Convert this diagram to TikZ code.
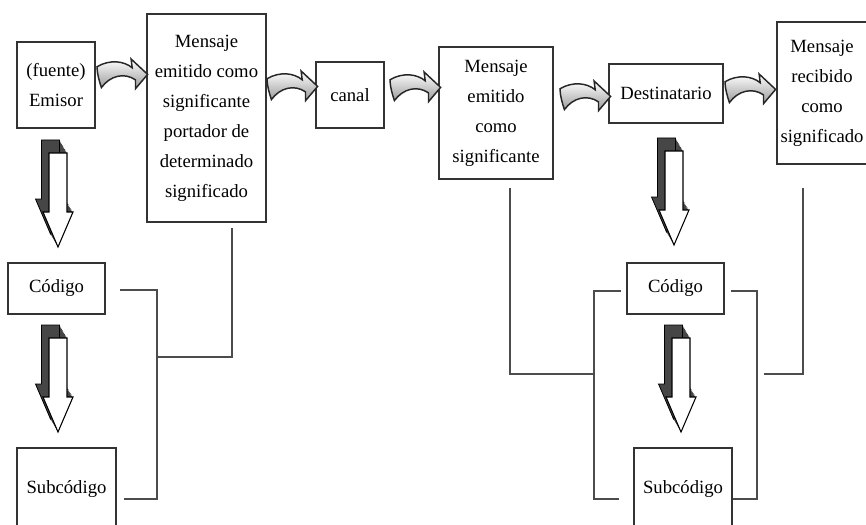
\documentclass[tikz,border=0pt]{standalone}
\usepackage{fontspec}
\setmainfont{Liberation Serif}
\usepackage{tikz}

\tikzset{
  box/.style={draw=black!80, line width=1pt, inner sep=0pt, align=center,
    font=\fontsize{14}{22.5}\selectfont},
  link/.style={draw=black!70, line width=0.9pt},
}
% outline of the bent arrow between the boxes
\newcommand{\bentpath}{(0,7) .. controls (12,0) and (25,2) .. (32,8) -- (31,0) -- (46,14) -- (35,27) -- (35,19) .. controls (25,12) and (12,15) .. (4,26) .. controls (2,20) and (0,13) .. (0,7) -- cycle}
% outline of the block arrow going down
\newcommand{\blockpath}{(0,0) -- (18,0) -- (18,59) -- (24,59) -- (9,94) -- (-6,59) -- (0,59) -- cycle}
\newcommand{\bentarrow}[2]{%
  \draw [shift={(#1,#2)}, scale=1.1, line width=1.1pt, draw=black!85, top color=white, bottom color=gray!80] \bentpath;}
\newcommand{\downblock}[2]{%
  \foreach \k in {1,...,10}{\fill [gray!55!black, shift={(#1-0.75*\k,#2-1.3*\k)}] \blockpath;}
  \draw [shift={(#1-7.5,#2-13)}, line width=0.6pt] \blockpath;
  \draw [shift={(#1,#2)}, fill=white, line width=0.8pt] \blockpath;}

\begin{document}
\begin{tikzpicture}[x=0.75pt,y=0.75pt,yscale=-1,xscale=1]
\useasboundingbox (0,0) rectangle (866,524);
\clip (0,0) rectangle (866,524);

% Boxes, top row
\node [box, minimum width=58.5pt, minimum height=64.5pt] (emisor) at (56,85) {(fuente)\\Emisor};
\node [box, minimum width=89.25pt, minimum height=156pt] (mensaje1) at (206.5,118) {Mensaje\\emitido como\\significante\\portador de\\determinado\\significado};
\node [box, minimum width=51pt, minimum height=49.5pt] (canal) at (350,95) {canal};
\node [box, minimum width=85.5pt, minimum height=99pt] (mensaje2) at (496,113) {Mensaje\\emitido\\como\\significante};
\node [box, minimum width=85.5pt, minimum height=44.25pt] (destino) at (666,93.5) {Destinatario};
\node [box, minimum width=67.5pt, minimum height=106.5pt] (mensaje3) at (822,93) {Mensaje\\recibido\\como\\significado};

% Boxes, codes
\node [box, minimum width=72.75pt, minimum height=38.25pt] (codigoA) at (56.5,288.5) {Código};
\node [box, minimum width=74.25pt, minimum height=61.5pt] (subcodA) at (66.5,489) {Subcódigo};
\node [box, minimum width=72.75pt, minimum height=38.25pt] (codigoB) at (675.5,288.5) {Código};
\node [box, minimum width=73.5pt, minimum height=61.5pt] (subcodB) at (683,489) {Subcódigo};

% Bent arrows
\bentarrow{97}{59}
\bentarrow{267}{71}
\bentarrow{390}{72}
\bentarrow{560}{81}
\bentarrow{725}{74}

% Block arrows
\downblock{49}{153}
\downblock{49}{338}
\downblock{665}{151}
\downblock{672}{338}

% Straight Lines, left
\coordinate (m1foot) at (232,228);
\coordinate (ljoin) at (157,357);
\coordinate (lcod) at (120,290);
\coordinate (lsub) at (124,499);
\draw [link] (m1foot) |- (ljoin);
\draw [link] (lcod) -| (ljoin) |- (lsub);

% Straight Lines, right
\coordinate (m2foot) at (510,188);
\coordinate (rjoin) at (594,374);
\coordinate (rcodL) at (621,291);
\coordinate (rsubL) at (619,499);
\coordinate (rcodR) at (731,291);
\coordinate (rsubR) at (733,499);
\coordinate (rjoinR) at (757,374);
\coordinate (m3link) at (764,374);
\coordinate (m3foot) at (803,188);
\draw [link] (m2foot) |- (rjoin);
\draw [link] (rcodL) -| (rjoin) |- (rsubL);
\draw [link] (rcodR) -| (rjoinR) |- (rsubR);
\draw [link] (m3link) -| (m3foot);

\end{tikzpicture}
\end{document}
